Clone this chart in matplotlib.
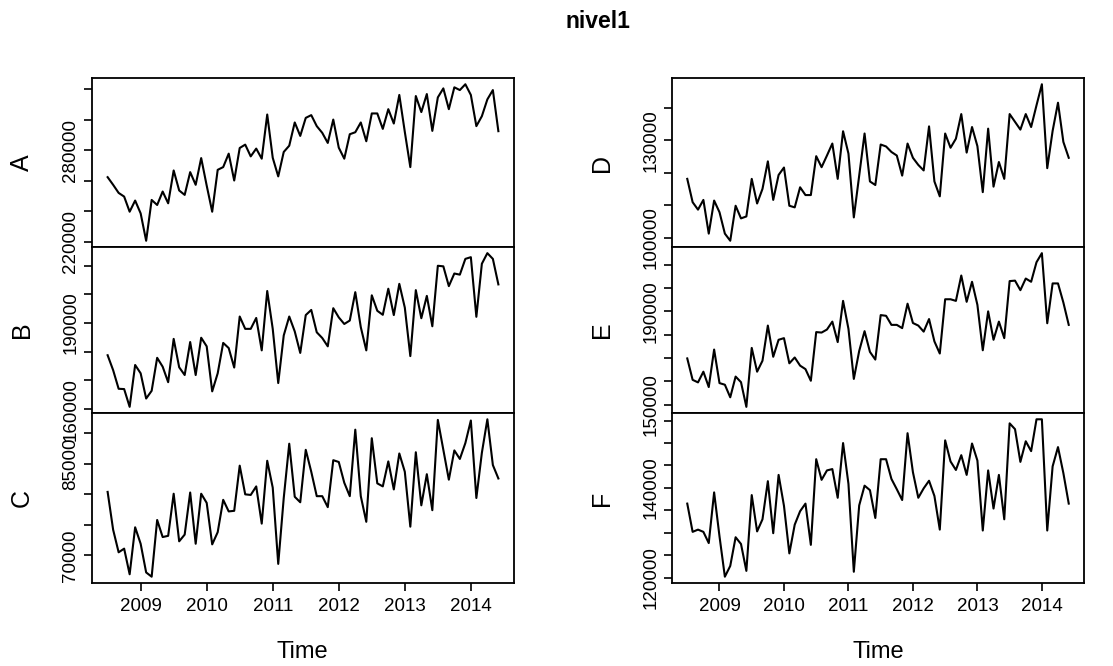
import matplotlib.pyplot as plt
import numpy as np

plt.rcParams['font.family'] = ['Liberation Sans', 'DejaVu Sans']

# monthly series, Jul 2008 .. Jun 2014
start = 2008.5

A = [262300, 257300, 252000, 249600, 239700, 247000, 238600, 220700, 247400, 244100,
     252900, 245200, 266700, 253600, 250700, 265600, 257300, 274800, 256800, 239700,
     267100, 268900, 277700, 260100, 281400, 283600, 275900, 281000, 274400, 303300,
     275000, 262800, 278800, 282900, 298100, 289300, 301100, 302900, 295700, 291300,
     284700, 300000, 281600, 274400, 290400, 291700, 298100, 285800, 304000, 304000,
     293900, 306800, 297400, 316100, 291900, 268900, 315400, 304900, 316700, 292600,
     314500, 320400, 306800, 321100, 319300, 323100, 316100, 295700, 302200, 313200,
     319300, 292400]
B = [178800, 173600, 167100, 167000, 160800, 175400, 172500, 163700, 166400, 177900,
     174800, 169400, 184500, 174600, 171900, 183400, 171900, 184900, 181900, 166200,
     172500, 183100, 181300, 174500, 192300, 188000, 188000, 191800, 180500, 201200,
     188000, 169100, 185700, 192300, 187100, 179600, 192800, 194600, 186800, 184800,
     181900, 195200, 192000, 189700, 190900, 200800, 188600, 180500, 199700, 194300,
     192900, 202000, 192800, 203700, 195400, 178500, 201500, 191700, 199500, 188900,
     210000, 209800, 202900, 207300, 206900, 212400, 213000, 192200, 210700, 214400,
     212400, 203500]
C = [80400, 74200, 70500, 71100, 66900, 74600, 71900, 67200, 66500, 75800,
     73000, 73200, 80100, 72300, 73400, 80300, 71900, 80100, 78600, 71800,
     73800, 79100, 77200, 77300, 84700, 80000, 79900, 81300, 75200, 85500,
     81100, 68600, 79400, 88300, 79600, 78700, 87300, 83700, 79700, 79700,
     77900, 85600, 85300, 81900, 79700, 90600, 79700, 75500, 89200, 81800,
     81300, 85400, 80800, 86700, 83700, 74700, 86900, 78200, 83300, 77400,
     92200, 87300, 82400, 87200, 85800, 88400, 92100, 79400, 86800, 92300,
     84800, 82600]
D = [118100, 110900, 108600, 111600, 101200, 111400, 107800, 101200, 99000, 109800,
     105900, 106500, 118100, 110500, 115000, 123500, 111600, 119300, 121600, 109800,
     109300, 115500, 113100, 113100, 125100, 121700, 125300, 129000, 118100, 132800,
     125900, 106200, 119100, 132100, 117300, 116200, 128700, 128100, 126400, 125300,
     119100, 129000, 124600, 122400, 120700, 134300, 117300, 112700, 132100, 127700,
     130500, 138100, 126200, 134100, 128200, 114000, 133600, 115700, 123300, 118100,
     138100, 135700, 133300, 138100, 134100, 140800, 147300, 121400, 132900, 141600,
     129500, 124600]
E = [169800, 160600, 159500, 164100, 157500, 173600, 159200, 158500, 153100, 162000,
     159600, 149000, 174300, 164100, 168800, 183900, 170500, 177800, 178500, 167700,
     170200, 166700, 165200, 160200, 181100, 180900, 182200, 185600, 176800, 194500,
     182500, 161000, 173000, 181500, 172600, 169300, 188400, 188100, 184200, 184200,
     182800, 193300, 185000, 183900, 181300, 186700, 177100, 171900, 195200, 195200,
     194500, 205400, 194100, 202700, 192800, 173300, 190000, 177800, 185600, 178500,
     203000, 203200, 199100, 204100, 202700, 211100, 215000, 184900, 202000, 202000,
     193800, 184200]
F = [136500, 130200, 130700, 130200, 127700, 139000, 129200, 120200, 122600, 129000,
     127500, 121500, 138400, 130300, 133000, 141500, 129900, 142900, 136000, 125400,
     131800, 134800, 136500, 127300, 146400, 141800, 143900, 144200, 137800, 150000,
     140900, 121300, 136100, 140500, 139500, 133300, 146400, 146400, 142000, 139700,
     137300, 152200, 143500, 137800, 139900, 141600, 138200, 130700, 150600, 145900,
     144000, 147300, 142900, 149900, 146100, 130500, 143900, 135400, 142900, 133000,
     154400, 153100, 145800, 150400, 148200, 155300, 155300, 130500, 144800, 149100,
     143300, 136500]

names = ['A', 'B', 'C', 'D', 'E', 'F']
series = [A, B, C, D, E, F]

# y ticks and the ones that carry a label
yticks = [
    [220000, 240000, 260000, 280000, 300000, 320000],
    [160000, 170000, 180000, 190000, 200000, 210000],
    [70000, 75000, 80000, 85000, 90000],
    [100000, 110000, 120000, 130000, 140000],
    [150000, 160000, 170000, 180000, 190000, 200000, 210000],
    [120000, 125000, 130000, 135000, 140000, 145000, 150000, 155000],
]
ylabeled = [
    [220000, 280000],
    [160000, 190000],
    [70000, 85000],
    [100000, 130000],
    [150000, 190000],
    [120000, 140000],
]
years = [2009, 2010, 2011, 2012, 2013, 2014]

W, H = 1113, 666
fig = plt.figure(figsize=(W / 100, H / 100), dpi=100)

# panel frames in pixels: (left, right) per column, (top, bottom) per row
cols = [(92, 514), (672, 1084)]
rows = [(78, 247), (247, 413), (413, 583)]
name_x = [22, 602]
time_x = [302, 878]

for k, (nm, y) in enumerate(zip(names, series)):
    c, r = divmod(k, 3)
    x0, x1 = cols[c]
    y0, y1 = rows[r]
    ax = fig.add_axes([x0 / W, 1 - y1 / H, (x1 - x0) / W, (y1 - y0) / H])
    t = start + np.arange(len(y)) / 12
    ax.plot(t, y, color='black', lw=1.5)
    ax.margins(x=0.04, y=0.04)
    for s in ax.spines.values():
        s.set_linewidth(1.3)

    ax.set_yticks(yticks[k])
    ax.set_yticklabels([str(v) if v in ylabeled[k] else '' for v in yticks[k]],
                       rotation=90, va='center')
    ax.tick_params(axis='y', length=6, width=1.2, labelsize=13.5, pad=3)

    if r == 2:
        ax.set_xticks(years)
        ax.set_xticklabels([str(v) for v in years])
        ax.tick_params(axis='x', length=6, width=1.2, labelsize=13.5, pad=5)
    else:
        ax.set_xticks([])

    fig.text(name_x[c] / W, 1 - (y0 + y1) / 2 / H, nm, rotation=90,
             ha='center', va='center', fontsize=18)

for c in range(2):
    fig.text(time_x[c] / W, 1 - 652 / H, 'Time', ha='center', va='center', fontsize=17)

fig.text(598 / W, 1 - 22 / H, 'nivel1', ha='center', va='center',
         fontsize=16.5, fontweight='bold')

fig.savefig('out.png', dpi=100)
